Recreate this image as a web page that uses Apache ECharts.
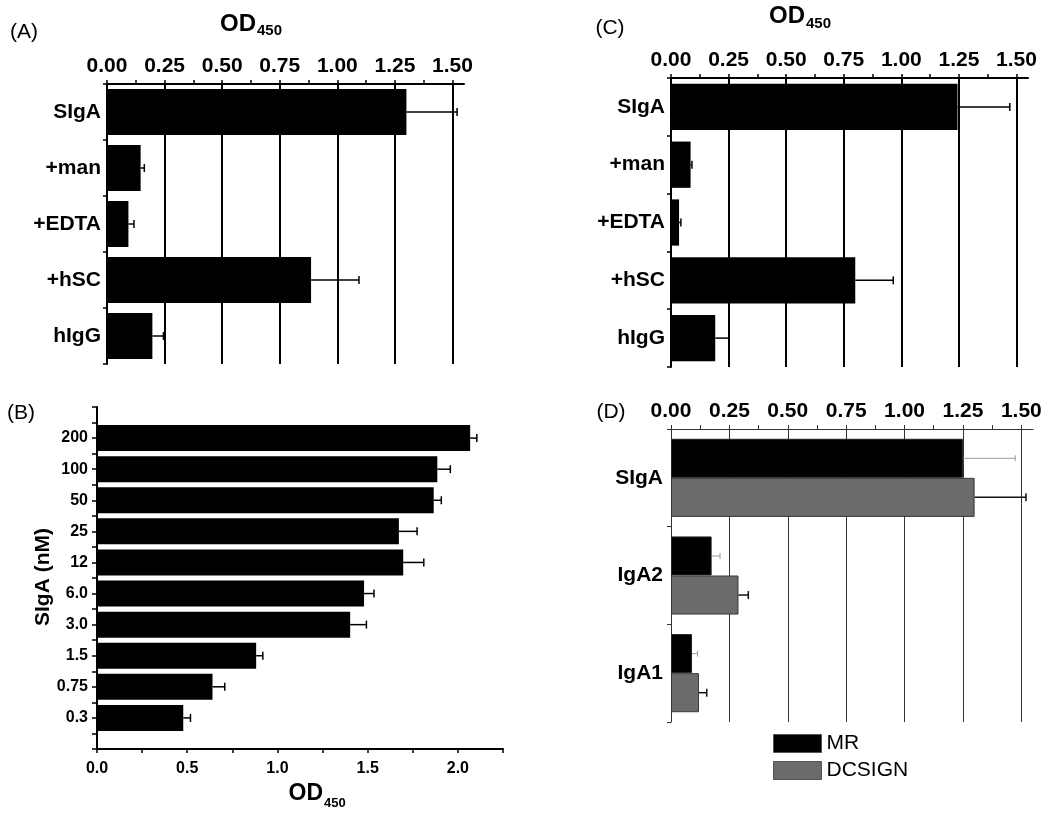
<!DOCTYPE html>
<html>
<head>
<meta charset="utf-8">
<script src="https://cdn.jsdelivr.net/npm/echarts@6/dist/echarts.min.js"></script>
<style>html,body{margin:0;padding:0;background:#fff;}#main{width:1050px;height:818px;}</style>
</head>
<body>
<div id="main"></div>
<script>
// ---- Data ----
const catsA = ['SIgA', '+man', '+EDTA', '+hSC', 'hIgG'];
const meanA = [1.30, 0.146, 0.093, 0.886, 0.197];
const errA  = [0.22, 0.016, 0.024, 0.208, 0.048];

const catsC = ['SIgA', '+man', '+EDTA', '+hSC', 'hIgG'];
const meanC = [1.244, 0.085, 0.035, 0.800, 0.192];
const errC  = [0.227, 0.006, 0.008, 0.165, 0.060];

// bottom to top
const concB = ['0.3', '0.75', '1.5', '3.0', '6.0', '12', '25', '50', '100', '200'];
const meanB = [0.478, 0.640, 0.882, 1.403, 1.480, 1.697, 1.673, 1.866, 1.886, 2.068];
const errB  = [0.040, 0.068, 0.037, 0.090, 0.055, 0.114, 0.101, 0.042, 0.072, 0.037];

const catsD = ['SIgA', 'IgA2', 'IgA1'];
const meanMR = [1.250, 0.174, 0.090];
const errMR  = [0.224, 0.036, 0.024];
const meanDC = [1.300, 0.289, 0.120];
const errDC  = [0.220, 0.042, 0.033];

const FONT = '"Liberation Sans", Arial, Helvetica, sans-serif';

// ---- helpers ----
function errData(means, errs, idxFn) {
  return means.map((m, i) => [m, m + errs[i], idxFn ? idxFn(i) : i]);
}
function errRender(offFrac, color, w, cap) {
  return function (params, api) {
    const i = api.value(2);
    const p0 = api.coord([api.value(0), i]);
    const p1 = api.coord([api.value(1), i]);
    const band = api.size([0, 1])[1];
    const y = p0[1] + offFrac * band;
    return {
      type: 'group',
      children: [
        { type: 'line', shape: { x1: p0[0], y1: y, x2: p1[0], y2: y }, style: { stroke: color, lineWidth: w } },
        { type: 'line', shape: { x1: p1[0], y1: y - cap, x2: p1[0], y2: y + cap }, style: { stroke: color, lineWidth: w } }
      ]
    };
  };
}
const isMult = (v, step) => Math.abs(v / step - Math.round(v / step)) < 1e-6;

function topAxisPair(grid, color, lw) {
  return [
    { // visible axis with ticks and labels
      gridIndex: grid, type: 'value', position: 'top', min: 0, max: 1.55, interval: 0.125,
      axisLine: { show: true, lineStyle: { color: color, width: lw } },
      axisTick: { show: true, length: 4, lineStyle: { color: color, width: lw > 1 ? 1.5 : 1 } },
      axisLabel: {
        show: true, fontSize: 21, fontWeight: 'bold', color: '#000', fontFamily: FONT, margin: 7,
        showMaxLabel: false,
        formatter: v => (isMult(v, 0.25) && v <= 1.5 + 1e-9) ? v.toFixed(2) : ''
      },
      splitLine: { show: false }
    },
    { // gridlines only
      gridIndex: grid, type: 'value', position: 'top', min: 0, max: 1.55, interval: 0.25,
      axisLine: { show: false }, axisTick: { show: false }, axisLabel: { show: false },
      splitLine: { show: true, showMinLine: false, showMaxLine: false, lineStyle: { color: color, width: lw } }
    }
  ];
}

// B category positions at half units: index k <-> position k/2 ; labels at integer positions 1..10
const catB = [];
for (let k = 0; k <= 22; k++) catB.push('p' + k);
const bIndex = i => 2 + 2 * i;
const barB = catB.map(() => null);
meanB.forEach((m, i) => { barB[bIndex(i)] = m; });

const xAxes = [].concat(
  topAxisPair(0, '#000', 2),
  [{
    gridIndex: 1, type: 'value', position: 'bottom', min: 0, max: 2.25, interval: 0.25,
    axisLine: { show: true, lineStyle: { color: '#000', width: 2 } },
    axisTick: { show: true, length: 4, lineStyle: { color: '#000', width: 1.5 } },
    axisLabel: { fontSize: 16, fontWeight: 'bold', color: '#000', fontFamily: FONT, margin: 12,
      formatter: v => isMult(v, 0.5) ? v.toFixed(1) : '' },
    splitLine: { show: false }
  }],
  topAxisPair(2, '#000', 2),
  topAxisPair(3, '#333', 1)
);
// indices: A:0,1  B:2  C:3,4  D:5,6

const catAxisBase = {
  type: 'category', inverse: true,
  axisLine: { show: true, lineStyle: { color: '#000', width: 2 } },
  axisTick: { show: true, length: 4, lineStyle: { color: '#000', width: 1.5 } },
  axisLabel: { fontSize: 21, fontWeight: 'bold', color: '#000', fontFamily: FONT, margin: 6 },
  splitLine: { show: false }
};

const yAxes = [
  Object.assign({}, catAxisBase, { gridIndex: 0, data: catsA }),
  {
    gridIndex: 1, type: 'category', data: catB, boundaryGap: false,
    axisLine: { show: true, lineStyle: { color: '#000', width: 2 } },
    axisTick: { show: true, interval: 0, length: 5, lineStyle: { color: '#000', width: 1.5 } },
    axisLabel: { interval: 0, fontSize: 16, fontWeight: 'bold', color: '#000', fontFamily: FONT, margin: 9,
      formatter: (v, idx) => (idx >= 2 && idx <= 20 && idx % 2 === 0) ? concB[(idx - 2) / 2] : '' },
    splitLine: { show: false }
  },
  Object.assign({}, catAxisBase, { gridIndex: 2, data: catsC }),
  Object.assign({}, catAxisBase, { gridIndex: 3, data: catsD,
    axisLine: { show: true, lineStyle: { color: '#333', width: 1 } },
    axisTick: { show: true, length: 4, lineStyle: { color: '#333', width: 1 } },
    axisLabel: { fontSize: 21, fontWeight: 'bold', color: '#000', fontFamily: FONT, margin: 8 } })
];

const option = {
  animation: false,
  backgroundColor: '#fff',
  textStyle: { fontFamily: FONT },
  grid: [
    { left: 107, top: 84, width: 357, height: 280, outerBoundsMode: 'none' },
    { left: 97, top: 407, width: 406, height: 342, outerBoundsMode: 'none' },
    { left: 671, top: 78, width: 357, height: 289, outerBoundsMode: 'none' },
    { left: 671, top: 429, width: 362, height: 293, outerBoundsMode: 'none' }
  ],
  xAxis: xAxes,
  yAxis: yAxes,
  legend: {
    data: ['MR', 'DCSIGN'], orient: 'vertical', left: 773, top: 733, padding: 0,
    itemWidth: 48, itemHeight: 18, itemGap: 6, icon: 'rect',
    textStyle: { fontSize: 21, color: '#000', fontFamily: FONT },
    itemStyle: { borderColor: '#555', borderWidth: 1 }
  },
  series: [
    { type: 'bar', xAxisIndex: 0, yAxisIndex: 0, data: meanA, barWidth: '82%', itemStyle: { color: '#000' } },
    { type: 'custom', xAxisIndex: 0, yAxisIndex: 0, data: errData(meanA, errA), encode: { x: [0, 1], y: 2 },
      renderItem: errRender(0, '#000', 1.5, 4), z: 5 },

    { type: 'bar', xAxisIndex: 2, yAxisIndex: 1, data: barB, barWidth: 26, itemStyle: { color: '#000' } },
    { type: 'custom', xAxisIndex: 2, yAxisIndex: 1, data: errData(meanB, errB, bIndex), encode: { x: [0, 1], y: 2 },
      renderItem: errRender(0, '#000', 1.5, 4), z: 5 },

    { type: 'bar', xAxisIndex: 3, yAxisIndex: 2, data: meanC, barWidth: '80%', itemStyle: { color: '#000' } },
    { type: 'custom', xAxisIndex: 3, yAxisIndex: 2, data: errData(meanC, errC), encode: { x: [0, 1], y: 2 },
      renderItem: errRender(0, '#000', 1.5, 4), z: 5 },

    { name: 'MR', type: 'bar', xAxisIndex: 5, yAxisIndex: 3, data: meanMR, barGap: 0, barCategoryGap: '20%',
      itemStyle: { color: '#000', borderColor: '#222', borderWidth: 1 } },
    { name: 'DCSIGN', type: 'bar', xAxisIndex: 5, yAxisIndex: 3, data: meanDC, barGap: 0, barCategoryGap: '20%',
      itemStyle: { color: '#6b6b6b', borderColor: '#3a3a3a', borderWidth: 1 } },
    { type: 'custom', xAxisIndex: 5, yAxisIndex: 3, data: errData(meanMR, errMR), encode: { x: [0, 1], y: 2 },
      renderItem: errRender(-0.2, '#999', 1, 3), z: 5 },
    { type: 'custom', xAxisIndex: 5, yAxisIndex: 3, data: errData(meanDC, errDC), encode: { x: [0, 1], y: 2 },
      renderItem: errRender(0.2, '#111', 1.5, 4), z: 5 }
  ],
  graphic: [
    { type: 'text', x: 24, y: 32, style: { text: '(A)', font: '21px ' + FONT, fill: '#000', align: 'center', verticalAlign: 'middle' } },
    { type: 'text', x: 21, y: 413, style: { text: '(B)', font: '21px ' + FONT, fill: '#000', align: 'center', verticalAlign: 'middle' } },
    { type: 'text', x: 610, y: 28, style: { text: '(C)', font: '21px ' + FONT, fill: '#000', align: 'center', verticalAlign: 'middle' } },
    { type: 'text', x: 611, y: 412, style: { text: '(D)', font: '21px ' + FONT, fill: '#000', align: 'center', verticalAlign: 'middle' } },

    { type: 'text', x: 256, y: 24, style: { text: 'OD', font: 'bold 24px ' + FONT, fill: '#000', align: 'right', verticalAlign: 'middle' } },
    { type: 'text', x: 257, y: 31, style: { text: '450', font: 'bold 15px ' + FONT, fill: '#000', align: 'left', verticalAlign: 'middle' } },

    { type: 'text', x: 805, y: 16, style: { text: 'OD', font: 'bold 24px ' + FONT, fill: '#000', align: 'right', verticalAlign: 'middle' } },
    { type: 'text', x: 806, y: 24, style: { text: '450', font: 'bold 15px ' + FONT, fill: '#000', align: 'left', verticalAlign: 'middle' } },

    { type: 'text', x: 323, y: 794, style: { text: 'OD', font: 'bold 23px ' + FONT, fill: '#000', align: 'right', verticalAlign: 'middle' } },
    { type: 'text', x: 324, y: 803, style: { text: '450', font: 'bold 13px ' + FONT, fill: '#000', align: 'left', verticalAlign: 'middle' } },

    { type: 'text', x: 43, y: 577, rotation: Math.PI / 2, style: { text: 'SIgA (nM)', font: 'bold 21px ' + FONT, fill: '#000', align: 'center', verticalAlign: 'middle' } }
  ]
};

const chart = echarts.init(document.getElementById('main'), null, { renderer: 'canvas' });
chart.setOption(option);
</script>
</body>
</html>
